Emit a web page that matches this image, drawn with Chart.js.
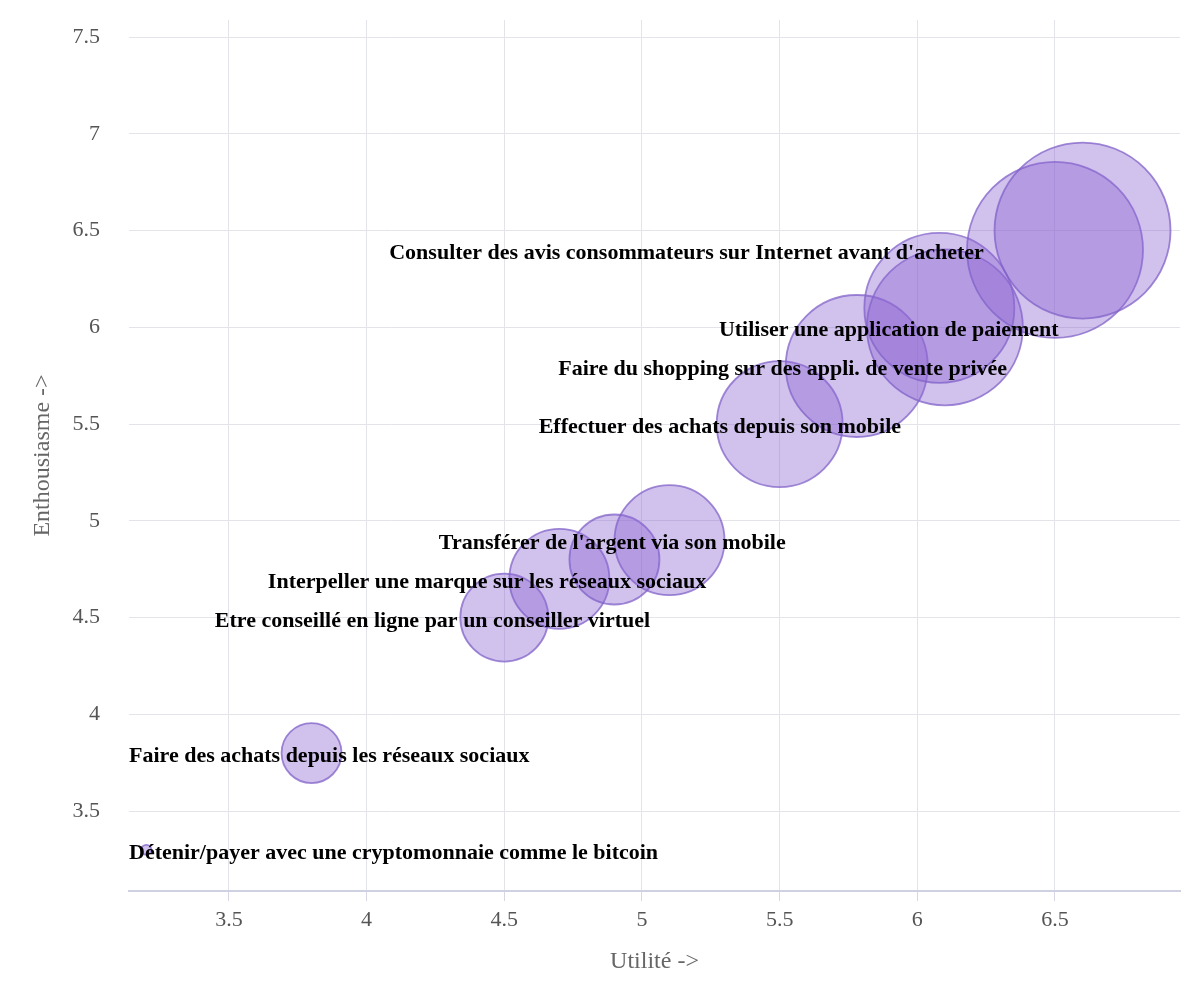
<!DOCTYPE html>
<html lang="fr">
<head>
<meta charset="utf-8">
<title>Utilité / Enthousiasme</title>
<script src="https://cdn.jsdelivr.net/npm/chart.js@4.4.1/dist/chart.umd.min.js"></script>
<style>
  html, body { margin: 0; padding: 0; background: #fff; }
  #wrap { width: 1200px; height: 1000px; }
</style>
</head>
<body>
<div id="wrap"><canvas id="bubbleChart"></canvas></div>
<script>
'use strict';

// usages (libellé vide = étiquette masquée car elle chevauche une autre)
const usages = [
  'Détenir/payer avec une cryptomonnaie comme le bitcoin',
  'Faire des achats depuis les réseaux sociaux',
  'Etre conseillé en ligne par un conseiller virtuel',
  'Interpeller une marque sur les réseaux sociaux',
  '',
  "Transférer de l'argent via son mobile",
  'Effectuer des achats depuis son mobile',
  'Faire du shopping sur des appli. de vente privée',
  'Utiliser une application de paiement',
  '',
  "Consulter des avis consommateurs sur Internet avant d'acheter",
  ''
];
const utilite      = [3.2, 3.8, 4.5, 4.7, 4.9, 5.1, 5.5, 5.78, 6.1, 6.08, 6.5, 6.6];
const enthousiasme = [3.3, 3.8, 4.5, 4.7, 4.8, 4.9, 5.5, 5.8, 6.0, 6.1, 6.4, 6.5];
const taille       = [5, 30, 44, 50, 45, 55, 63, 71, 78, 75, 88, 88];

const xTicks = [3.5, 4, 4.5, 5, 5.5, 6, 6.5];
const yTicks = [3.5, 4, 4.5, 5, 5.5, 6, 6.5, 7, 7.5];

const serif = '"Liberation Serif", "Times New Roman", serif';

// étiquettes posées sur les bulles, recadrées dans la zone du graphique
const bubbleLabels = {
  id: 'bubbleLabels',
  afterDatasetsDraw(chart) {
    const ctx = chart.ctx;
    const area = chart.chartArea;
    const meta = chart.getDatasetMeta(0);
    ctx.save();
    ctx.font = 'bold 22px ' + serif;
    ctx.fillStyle = '#000';
    ctx.textAlign = 'left';
    ctx.textBaseline = 'alphabetic';
    meta.data.forEach((el, i) => {
      const txt = usages[i];
      if (!txt) return;
      const boxW = ctx.measureText(txt).width * 1.33;
      let x = el.x - boxW / 2;
      x = Math.max(area.left, Math.min(x, area.right - boxW));
      ctx.fillText(txt, x, el.y + 9);
    });
    ctx.restore();
  }
};

const ctx = document.getElementById('bubbleChart').getContext('2d');
const chart = new Chart(ctx, {
  type: 'bubble',
  data: {
    datasets: [{
      label: 'Usages',
      data: utilite.map((x, i) => ({ x: x, y: enthousiasme[i], r: taille[i] })),
      backgroundColor: 'rgba(140, 100, 210, 0.4)',
      borderColor: 'rgba(128, 98, 200, 0.75)',
      borderWidth: 1.8
    }]
  },
  options: {
    responsive: true,
    maintainAspectRatio: false,
    animation: false,
    layout: { autoPadding: false, padding: { top: 20, right: 20, left: 0, bottom: 0 } },
    plugins: {
      legend: { display: false },
      tooltip: { enabled: false }
    },
    scales: {
      x: {
        type: 'linear',
        min: 3.137,
        max: 6.954,
        afterBuildTicks: s => { s.ticks = xTicks.map(v => ({ value: v })); },
        afterFit: s => { s.height = 109; s.paddingLeft = 0; s.paddingRight = 0; },
        grid: { color: '#e3e3ea', tickLength: 10, tickColor: '#d6d6e4' },
        border: { color: '#cfd0e2', width: 2 },
        ticks: { font: { family: serif, size: 22 }, color: '#555', padding: 6, callback: v => String(v) },
        title: {
          display: true,
          text: 'Utilité ->',
          font: { family: serif, size: 24 },
          color: '#666',
          padding: { top: 0, bottom: 24 }
        }
      },
      y: {
        type: 'linear',
        min: 3.087,
        max: 7.588,
        afterBuildTicks: s => { s.ticks = yTicks.map(v => ({ value: v })); },
        afterFit: s => { s.width = 129; s.paddingTop = 0; s.paddingBottom = 0; },
        grid: { color: '#e3e3ea', drawTicks: false },
        border: { display: false },
        ticks: { font: { family: serif, size: 22 }, color: '#555', padding: 29, callback: v => String(v) },
        title: {
          display: true,
          text: 'Enthousiasme ->',
          font: { family: serif, size: 24 },
          color: '#666',
          padding: { top: 28, bottom: 0 }
        }
      }
    }
  },
  plugins: [bubbleLabels]
});
</script>
</body>
</html>
